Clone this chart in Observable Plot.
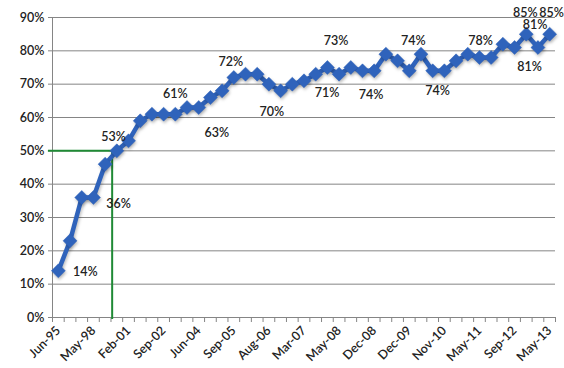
<!DOCTYPE html>
<html>
<head>
<meta charset="utf-8">
<script src="https://cdn.jsdelivr.net/npm/d3@7"></script>
<script src="https://cdn.jsdelivr.net/npm/@observablehq/plot@0.6"></script>
<style>
  html, body { margin: 0; padding: 0; background: #fff; }
  #chart svg { display: block; }
  #chart g[aria-label="line"], #chart g[aria-label="dot"] {
    filter: drop-shadow(1px 2px 1.5px rgba(0, 0, 0, 0.25));
  }
</style>
</head>
<body>
<div id="chart"></div>
<script>
// Share per survey period, in percent (43 periods, Jun-95 to May-13)
const shares = [
  14, 23, 36, 36, 46, 50, 53, 59, 61, 61, 61, 63, 63, 66, 68,
  72, 73, 73, 70, 68, 70, 71, 73, 75, 73, 75, 74, 74, 79, 77,
  74, 79, 74, 74, 77, 79, 78, 78, 82, 81, 85, 81, 85
];

// Period names shown on the x axis, one every third period
const tickLabels = [
  "Jun-95", "May-98", "Feb-01", "Sep-02", "Jun-04", "Sep-05", "Aug-06",
  "Mar-07", "May-08", "Dec-08", "Dec-09", "Nov-10", "May-11", "Sep-12", "May-13"
];
const tickStep = 3;

// Periods whose value is printed, with the label's offset from the marker
const valueLabels = [
  { i: 0,  dx: 27, dy: 1 },
  { i: 3,  dx: 25, dy: 6 },
  { i: 6,  dx: -15, dy: -4 },
  { i: 10, dx: 0,  dy: -20 },
  { i: 12, dx: 18, dy: 25 },
  { i: 15, dx: -3, dy: -16 },
  { i: 18, dx: 3,  dy: 28 },
  { i: 21, dx: 23, dy: 12 },
  { i: 24, dx: -3, dy: -33 },
  { i: 27, dx: -3, dy: 24 },
  { i: 30, dx: 4,  dy: -30 },
  { i: 32, dx: 5,  dy: 20 },
  { i: 36, dx: 1,  dy: -17 },
  { i: 39, dx: 15, dy: 19 },
  { i: 40, dx: -1, dy: -21 },
  { i: 41, dx: -3, dy: -23 },
  { i: 42, dx: 2,  dy: -21 }
];

// Green guide marking the 50% crossing
const guideValue = 50;
const guidePeriod = 4.6;

const yTicks = d3.range(0, 100, 10);

const blue = "#2f63bb";
const green = "#1f8a35";
const grey = "#858585";
const ink = "#222";
const weight = 600;

const points = shares.map((v, i) => ({ i, v }));
const n = shares.length;

const chart = Plot.plot({
  width: 564,
  height: 368,
  marginLeft: 52,
  marginRight: 9,
  marginTop: 17,
  marginBottom: 51,
  style: { fontFamily: "Lato, 'Open Sans', sans-serif", fontSize: "12.5px", color: ink, background: "#fff" },
  x: { domain: [-0.5, n - 0.5], axis: null },
  y: { domain: [0, 90], axis: null },
  marks: [
    Plot.gridY(yTicks.slice(1), { stroke: grey, strokeOpacity: 1, strokeWidth: 1 }),
    Plot.axisY(yTicks, {
      label: null, tickSize: 4, tickPadding: 4, stroke: grey,
      tickFormat: d => d + "%", fontSize: 12.5, fontWeight: weight, fill: ink
    }),
    Plot.ruleY([0], { stroke: grey }),
    Plot.ruleX([-0.5], { stroke: grey }),
    // category boundary ticks
    Plot.axisX(d3.range(-0.5, n), { label: null, tickSize: 5, stroke: grey, tickFormat: () => "" }),
    // rotated period names
    Plot.axisX(d3.range(0, n, tickStep), {
      label: null, tickSize: 0, tickPadding: 11, tickRotate: -45,
      tickFormat: (d, k) => tickLabels[k], fontSize: 12.5, fontWeight: weight, fill: ink
    }),
    Plot.ruleY([guideValue], { x1: -0.85, x2: guidePeriod, stroke: green, strokeWidth: 2 }),
    Plot.ruleX([guidePeriod], { y1: -0.6, y2: guideValue, stroke: green, strokeWidth: 2 }),
    Plot.line(points, { x: "i", y: "v", stroke: blue, strokeWidth: 4.5, strokeLinejoin: "round" }),
    Plot.dot(points, { x: "i", y: "v", symbol: "diamond2", r: 6.3, fill: blue, stroke: blue, strokeWidth: 0.5 }),
    ...valueLabels.map(d => Plot.text([d], {
      x: () => d.i, y: () => shares[d.i], text: () => shares[d.i] + "%",
      dx: d.dx, dy: d.dy, fill: ink, fontSize: 12.5, fontWeight: weight
    }))
  ]
});

document.getElementById("chart").appendChild(chart);
</script>
</body>
</html>
